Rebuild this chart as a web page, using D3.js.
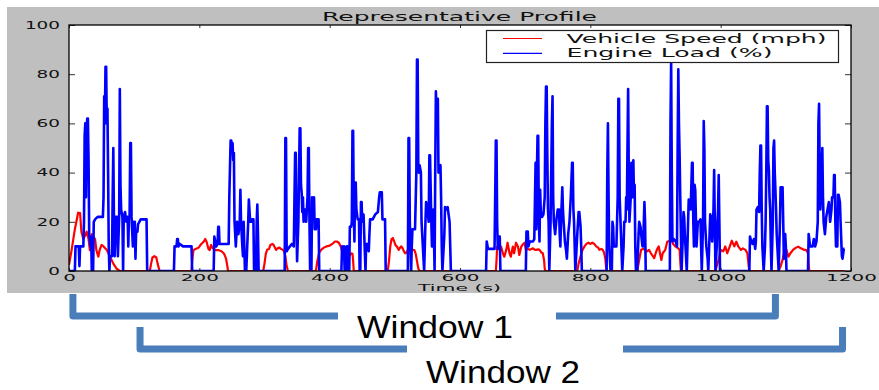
<!DOCTYPE html>
<html>
<head>
<meta charset="utf-8">
<script src="https://cdn.jsdelivr.net/npm/d3@7"></script>
<style>
body { margin: 0; background: #fff; }
svg { display: block; }
</style>
</head>
<body>
<svg id="chart" width="879" height="390"></svg>
<script>
// [time (s), value]
const speed_mph = [
  [0,2.5],[4,8.5],[9,17],[14,23.7],[17,23.5],[19,16],[22,13],[24,14],[27,16],[30,13],[32,8.5],[35,15],[37,14],[40,13],[42,8.5],[45,5.8],[47,8.5],[50,10.6],[53,10],[58,8.5],[63,5.8],[68,3],[73,1],[78,0],
  [124,0],[126,3],[128,5.5],[131,6],[134,5.5],[136,3],[138,1],[139,0],
  [188,0],[189,4],[191,8.5],[195,9],[199,9.5],[203,11],[207,12],[209,13],[211,12],[214,9],[216,8.5],[218,10.6],[220,9.5],[222,9],[224,8.5],[229,8.5],[234,8],[238,7],[241,5],[243,2],[244,0],
  [298,0],[300,3],[302,7],[304,8.6],[307,9],[309,10.6],[312,11],[314,10.6],[316,9.5],[318,8.6],[320,9.2],[323,9.5],[325,9],[328,8.6],[330,8],[332,6],[334,2],[336,0],
  [379,0],[381,4],[384,7.5],[387,8.6],[391,9.5],[395,10],[400,10.3],[404,11],[408,12],[411,12],[414,11.5],[417,10],[419,8],[421,7.2],[424,7.2],[426,6.5],[428,7],[431,6.5],[433,7.2],[435,7],[436,4],[437,0],
  [489,0],[491,4],[493,10],[495,13],[497,13.4],[499,12],[501,10.5],[503,10],[506,8.6],[508,9.5],[510,10],[512,9.2],[514,8],[516,7.2],[518,7.5],[520,8.6],[523,9.2],[525,9],[528,8.6],[530,8.5],[532,7],[534,4],[536,1],[538,0],
  [655,0],[656,4],[657,9.9],[660,10],[663,9.9],[666,7],[668,5.8],[671,8.6],[673,11.5],[676,7.2],[678,5.8],[681,9.9],[683,7.2],[686,11.5],[689,9.9],[691,6.5],[694,9.9],[697,11],[699,11.5],[701,8.6],[704,9],[707,8.6],[710,9],[712,9.2],[715,8.6],[717,8.6],[720,8.8],[722,8.6],[725,7.5],[727,7.2],[729,4.5],[730,1],[731,0],
  [780,0],[782,3],[785,6],[788,8.6],[791,10],[794,11],[797,11.5],[800,11],[803,11.5],[806,11],[809,10],[812,9.5],[814,8.6],[817,9],[819,8.6],[821,7.5],[823,5],[824,2],[825,0],
  [872,0],[874,3],[876,6],[878,8.6],[881,9],[884,8.6],[887,8],[890,8.6],[893,7.2],[896,6],[898,5.2],[900,7],[902,8.6],[905,10],[907,7],[909,4.5],[911,7.2],[915,8.6],[918,11.9],[922,12.3],[925,13.3],[927,11],[931,9.9],[935,9.2],[937,8.6],[938,4],[939,0],
  [992,0],[995,3],[997,4.5],[1000,8.6],[1004,8],[1007,10],[1010,7.2],[1014,10],[1017,12.3],[1021,10],[1024,11.9],[1027,10],[1031,8.6],[1034,9.2],[1038,8.6],[1041,7.2],[1043,2],[1044,0],
  [1089,0],[1092,2],[1095,4.5],[1097,7.2],[1101,8.6],[1104,5.8],[1107,7.2],[1111,8.6],[1115,9.4],[1119,9.9],[1123,9.2],[1128,8.6],[1131,8.6],[1134,7.2],[1135,3],[1136,0],
  [1190,0]
]

const engine_load_pct = [
  [0,0],[9,0],[10,10],[15,10],[16,2],[17,10],[22,10],[23,20],[24,55],[25,60],[26,30],[27,58],[28,62],[29,62],[30,45],[31,15],[33,10],[34,14],[35,0],[37,0],[38,20],[40,21],[44,22],[52,22],[53,30],[54,71],[55,60],[56,83],[57,83],[58,60],[59,66],[60,40],[61,10],[62,0],[63,6],[66,6],[67,30],[68,50],[69,20],[70,6],[72,22],[74,22],[75,6],[77,22],[78,74],[79,35],[80,25],[82,22],[83,0],[84,22],[86,24],[88,20],[90,22],[91,10],[92,22],[93,22],[94,52],[95,52],[96,22],[98,10],[99,20],[100,12],[101,20],[102,5],[103,16],[105,16],[106,19],[108,20],[110,21],[119,21],[120,0],
  [161,0],[162,10],[165,10],[166,13],[167,13],[168,10],[170,11],[175,10],[182,10],[188,10],[189,0],
  [222,0],[223,14],[226,10],[228,11],[229,18],[230,18],[231,11],[245,11],[246,30],[248,53],[249,53],[250,50],[251,52],[252,45],[253,48],[254,20],[256,10],[258,20],[260,15],[262,20],[263,33],[264,20],[266,10],[267,6],[268,20],[270,0],[272,0],[275,20],[276,29],[278,20],[280,20],[281,21],[283,21],[284,0],[287,0],[288,20],[289,27],[290,15],[291,0],
  [331,0],[332,54],[333,54],[334,8],[336,9],[339,10],[342,11],[345,10],[346,30],[347,48],[348,48],[349,20],[350,4],[352,20],[353,40],[354,58],[355,58],[356,35],[357,32],[358,24],[359,30],[360,20],[362,25],[364,20],[366,30],[367,50],[368,50],[369,20],[370,0],[372,0],[373,30],[375,28],[376,30],[377,17],[379,17],[380,21],[383,21],[384,0],
  [418,0],[419,10],[421,8],[422,10],[423,0],[425,0],[426,10],[427,10],[428,0],[430,0],[431,18],[433,18],[434,20],[435,57],[436,57],[437,25],[438,12],[439,36],[440,36],[441,25],[443,21],[445,21],[446,0],[447,0],[448,28],[449,28],[450,20],[452,23],[453,15],[455,0],[456,11],[458,11],[460,8],[461,15],[462,21],[466,21],[468,22],[470,23],[474,24],[476,30],[477,32],[480,32],[481,21],[485,21],[486,0],
  [520,0],[521,54],[522,54],[523,20],[525,0],[526,10],[527,17],[531,17],[533,40],[534,86],[535,86],[536,43],[537,40],[538,43],[540,40],[541,20],[543,10],[545,0],[547,20],[548,28],[550,25],[552,20],[553,47],[554,47],[556,20],[557,10],[559,25],[560,15],[561,0],[562,40],[563,73],[564,65],[565,70],[566,70],[567,40],[568,42],[570,43],[571,30],[572,10],[573,0],[576,15],[577,26],[579,25],[581,26],[582,24],[584,20],[585,10],[586,0],
  [640,0],[641,12],[643,9],[653,9],[654,30],[655,53],[656,53],[657,20],[658,9],[660,14],[661,14],[662,0],
  [701,0],[702,16],[704,16],[705,10],[707,12],[712,12],[714,13],[716,44],[717,17],[718,40],[719,55],[720,55],[721,20],[722,12],[723,33],[724,24],[726,22],[728,23],[730,30],[731,60],[732,75],[733,75],[734,47],[735,25],[736,20],[737,0],[739,20],[741,60],[742,71],[743,30],[744,20],[746,15],[748,21],[750,25],[752,25],[753,15],[754,10],[755,20],[757,34],[758,25],[759,20],[761,12],[763,8],[764,5],[766,15],[768,20],[770,30],[772,44],[773,44],[774,25],[775,20],[777,0],[778,5],[780,15],[782,24],[783,24],[785,18],[786,10],[787,0],
  [825,0],[826,40],[827,60],[828,30],[829,10],[830,5],[831,0],[833,0],[834,20],[835,18],[836,10],[840,10],[842,30],[843,70],[844,70],[845,30],[847,15],[849,0],[851,10],[852,20],[854,20],[855,30],[856,25],[857,50],[858,74],[859,40],[860,20],[862,30],[863,44],[865,30],[866,45],[867,30],[868,35],[869,10],[870,0],[872,0],[874,15],[875,20],[877,18],[878,15],[880,10],[881,10],[883,28],[884,20],[885,0],
  [922,0],[923,60],[924,85],[925,40],[926,12],[928,13],[931,12],[933,10],[934,50],[935,82],[936,60],[937,47],[938,30],[940,0],[942,15],[943,24],[944,22],[945,15],[947,5],[948,0],[950,20],[951,29],[953,28],[954,25],[956,44],[957,44],[958,20],[959,10],[960,35],[961,33],[963,10],[965,20],[967,20],[969,21],[970,10],[971,0],[973,20],[974,61],[975,50],[976,20],[978,10],[980,5],[981,0],[983,15],[984,23],[985,22],[987,12],[989,25],[990,41],[991,20],[992,0],[994,10],[995,20],[996,25],[997,39],[998,20],[999,0],
  [1044,0],[1045,14],[1047,12],[1049,11],[1051,13],[1053,9],[1054,12],[1055,25],[1057,26],[1059,24],[1060,40],[1061,51],[1062,51],[1063,25],[1064,10],[1066,0],[1068,10],[1069,20],[1070,40],[1071,67],[1072,67],[1073,45],[1074,41],[1075,30],[1076,25],[1077,10],[1078,0],[1080,20],[1081,50],[1082,53],[1083,40],[1084,33],[1085,25],[1086,15],[1088,5],[1089,0],[1091,20],[1092,34],[1095,34],[1096,20],[1097,5],[1099,15],[1100,10],[1101,0],
  [1134,0],[1135,15],[1136,13],[1137,10],[1141,10],[1143,13],[1145,10],[1147,12],[1149,20],[1150,60],[1151,68],[1152,40],[1153,25],[1155,40],[1156,50],[1157,30],[1158,20],[1160,15],[1162,22],[1164,25],[1166,28],[1168,20],[1170,25],[1171,30],[1173,30],[1174,39],[1175,39],[1176,20],[1177,10],[1179,10],[1180,31],[1181,31],[1183,28],[1184,20],[1186,6],[1187,5],[1189,9],[1190,9]
]

const series_names = ["Vehicle Speed (mph)", "Engine Load (%)"]
const series_colors = ["#ff0000", "#0000ff"]
const x_ticks = [0, 200, 400, 600, 800, 1000, 1200]
const y_ticks = [0, 20, 40, 60, 80, 100]
const chart_title = "Representative Profile"
const x_label = "Time (s)"
const window_labels = ["Window 1", "Window 2"]
const window_spans = [[6, 1084], [109, 1187]]

const svg = d3.select("#chart")
const font = "DejaVu Sans, sans-serif"
const plot = {left: 69, right: 851, top: 25, bottom: 271}

const x = d3.scaleLinear().domain([0, 1200]).range([plot.left, plot.right])
const y = d3.scaleLinear().domain([0, 100]).range([plot.bottom, plot.top])

// the source image is stretched sideways, so text gets a fixed drawn width
function wide_text(parent, str, px, py, size, width) {
    return parent.append("text")
        .attr("x", px)
        .attr("y", py)
        .attr("font-family", font)
        .attr("font-size", size)
        .attr("textLength", width)
        .attr("lengthAdjust", "spacingAndGlyphs")
        .attr("fill", "#111")
        .text(str)
}

// grey figure background
svg.append("rect")
    .attr("x", 7).attr("y", 7)
    .attr("width", 872).attr("height", 286)
    .attr("fill", "#bfbfbf")

svg.append("rect")
    .attr("x", plot.left).attr("y", plot.top)
    .attr("width", plot.right - plot.left).attr("height", plot.bottom - plot.top)
    .attr("fill", "#fff")

svg.append("clipPath").attr("id", "plot_clip")
    .append("rect")
    .attr("x", plot.left).attr("y", plot.top)
    .attr("width", plot.right - plot.left).attr("height", plot.bottom - plot.top)

const line = d3.line().x(d => x(d[0])).y(d => y(d[1]))
const lines = svg.append("g").attr("clip-path", "url(#plot_clip)")
lines.append("path")
    .attr("d", line(speed_mph))
    .attr("fill", "none")
    .attr("stroke", series_colors[0])
    .attr("stroke-width", 2.2)
    .attr("stroke-linejoin", "round")
lines.append("path")
    .attr("d", line(engine_load_pct))
    .attr("fill", "none")
    .attr("stroke", series_colors[1])
    .attr("stroke-width", 2.6)
    .attr("stroke-linejoin", "round")

// axes, ticks pointing inward on all four sides
const x_axis = svg.append("g")
    .attr("transform", `translate(0,${plot.bottom})`)
    .call(d3.axisBottom(x).tickValues(x_ticks).tickFormat(d3.format("d")).tickSize(-3).tickPadding(3.3))
const y_axis = svg.append("g")
    .attr("transform", `translate(${plot.left},0)`)
    .call(d3.axisLeft(y).tickValues(y_ticks).tickFormat(d3.format("d")).tickSize(-6).tickPadding(9))
svg.append("g")
    .attr("transform", `translate(0,${plot.top})`)
    .call(d3.axisTop(x).tickValues(x_ticks).tickSize(-3).tickFormat(""))
svg.append("g")
    .attr("transform", `translate(${plot.right},0)`)
    .call(d3.axisRight(y).tickValues(y_ticks).tickSize(-6).tickFormat(""))

svg.selectAll(".domain").remove()
svg.selectAll(".tick line").attr("stroke", "#333").attr("stroke-width", 1)
x_axis.selectAll("text")
    .attr("font-family", font)
    .attr("font-size", 9.5)
    .attr("fill", "#111")
    .attr("textLength", d => String(d).length * 12.7)
    .attr("lengthAdjust", "spacingAndGlyphs")
y_axis.selectAll("text")
    .attr("font-family", font)
    .attr("font-size", 10.5)
    .attr("fill", "#111")
    .attr("textLength", d => String(d).length * 11.7)
    .attr("lengthAdjust", "spacingAndGlyphs")

svg.append("rect")
    .attr("x", plot.left).attr("y", plot.top)
    .attr("width", plot.right - plot.left).attr("height", plot.bottom - plot.top)
    .attr("fill", "none")
    .attr("stroke", "#000")
    .attr("stroke-width", 1.3)

wide_text(svg, chart_title, 322, 20.7, 11.5, 275)
wide_text(svg, x_label, 418, 290.5, 9.5, 83)

// legend
const legend = svg.append("g")
legend.append("rect")
    .attr("x", 486.5).attr("y", 30.5)
    .attr("width", 352).attr("height", 32)
    .attr("fill", "#fff")
    .attr("stroke", "#222")
    .attr("stroke-width", 1.2)
const legend_widths = [260, 206]
series_names.forEach((name, i) => {
    const row_y = 38.5 + i * 14.8
    legend.append("line")
        .attr("x1", 503).attr("x2", 542)
        .attr("y1", row_y).attr("y2", row_y)
        .attr("stroke", series_colors[i])
        .attr("stroke-width", 1.2)
    wide_text(legend, name, 566.5, row_y + 4, 12, legend_widths[i])
})

// window brackets below the chart
const bracket_color = "#4a7ebb"
const bracket_rows = [{top: 294, base: 316, text_y: 338, gap: [338, 556]},
                      {top: 327, base: 349, text_y: 383, gap: [407, 623]}]
window_spans.forEach((span, i) => {
    const row = bracket_rows[i]
    const x0 = x(span[0]), x1 = x(span[1])
    svg.append("path")
        .attr("d", `M${x0},${row.top} L${x0},${row.base} L${x1},${row.base} L${x1},${row.top}`)
        .attr("fill", "none")
        .attr("stroke", bracket_color)
        .attr("stroke-width", 7)
        .attr("stroke-linejoin", "round")
})
window_labels.forEach((label, i) => {
    const row = bracket_rows[i]
    svg.append("rect")
        .attr("x", row.gap[0]).attr("y", i == 0 ? 293 : 342)
        .attr("width", row.gap[1] - row.gap[0]).attr("height", i == 0 ? 49 : 48)
        .attr("fill", "#fff")
    svg.append("text")
        .attr("x", i == 0 ? 357 : 426)
        .attr("y", row.text_y)
        .attr("font-family", "Liberation Sans, sans-serif")
        .attr("font-size", 31.5)
        .attr("textLength", i == 0 ? 156 : 154)
        .attr("lengthAdjust", "spacingAndGlyphs")
        .attr("fill", "#000")
        .text(label)
})
</script>
</body>
</html>
